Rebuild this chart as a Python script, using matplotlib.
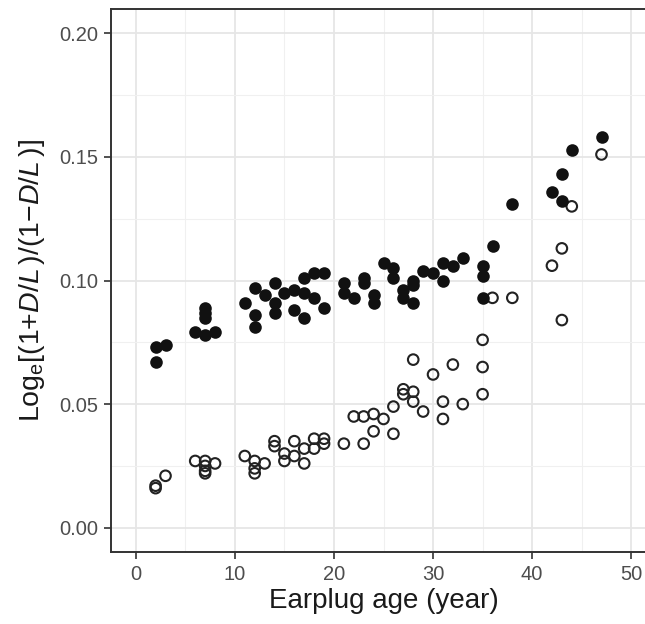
import matplotlib
matplotlib.use("Agg")
import matplotlib.pyplot as plt
from matplotlib.ticker import MultipleLocator

# Filled circles
solid_age = [2, 2, 3, 6, 7, 7, 7, 7, 8, 11, 12, 12, 12, 13, 14, 14, 14, 15, 16, 16,
             17, 17, 17, 18, 18, 19, 19, 21, 21, 22, 23, 23, 24, 24, 25, 26, 26, 27, 27,
             28, 28, 28, 29, 30, 31, 31, 32, 33, 35, 35, 35, 36, 38, 42, 43, 43, 44, 47]
solid_ratio = [0.073, 0.067, 0.074, 0.079, 0.089, 0.087, 0.085, 0.078, 0.079, 0.091,
               0.097, 0.086, 0.081, 0.094, 0.099, 0.091, 0.087, 0.095, 0.096, 0.088,
               0.101, 0.095, 0.085, 0.103, 0.093, 0.103, 0.089, 0.099, 0.095, 0.093,
               0.101, 0.099, 0.094, 0.091, 0.107, 0.105, 0.101, 0.096, 0.093,
               0.100, 0.098, 0.091, 0.104, 0.103, 0.107, 0.100, 0.106, 0.109,
               0.106, 0.102, 0.093, 0.114, 0.131, 0.136, 0.143, 0.132, 0.153, 0.158]

# Open circles
hollow_age = [2, 2, 3, 6, 7, 7, 7, 7, 8, 11, 12, 12, 12, 13, 14, 14, 15, 15, 16, 16,
              17, 17, 18, 18, 19, 19, 21, 22, 23, 23, 24, 24, 25, 26, 26, 27, 27,
              28, 28, 28, 29, 30, 31, 31, 32, 33, 35, 35, 35, 36, 38, 42, 43, 43, 44, 47]
hollow_ratio = [0.017, 0.016, 0.021, 0.027, 0.027, 0.025, 0.023, 0.022, 0.026, 0.029,
                0.027, 0.024, 0.022, 0.026, 0.035, 0.033, 0.030, 0.027, 0.035, 0.029,
                0.032, 0.026, 0.036, 0.032, 0.036, 0.034, 0.034, 0.045, 0.045, 0.034,
                0.046, 0.039, 0.044, 0.049, 0.038, 0.056, 0.054,
                0.068, 0.055, 0.051, 0.047, 0.062, 0.051, 0.044, 0.066, 0.050,
                0.076, 0.065, 0.054, 0.093, 0.093, 0.106, 0.113, 0.084, 0.130, 0.151]

x_ticks = [0, 10, 20, 30, 40, 50]
y_ticks = [0.00, 0.05, 0.10, 0.15, 0.20]

plt.rcParams["font.family"] = ["Liberation Sans", "DejaVu Sans"]
plt.rcParams["mathtext.fontset"] = "custom"
plt.rcParams["mathtext.rm"] = "Liberation Sans"
plt.rcParams["mathtext.it"] = "Liberation Sans:italic"

fig = plt.figure(figsize=(6.45, 6.24), dpi=100)
# panel runs a little past the right edge, like the cropped original
ax = fig.add_axes([111 / 645, 0.1147, 545 / 645, 0.8715])

ax.scatter(hollow_age, hollow_ratio, s=58, facecolors="none", edgecolors="#222222",
           linewidths=1.5, zorder=3)
ax.scatter(solid_age, solid_ratio, s=82, c="#111111", linewidths=0, zorder=4)

ax.set_xlim(-2.5, 52.5)
ax.set_ylim(-0.01, 0.21)
ax.set_xticks(x_ticks)
ax.set_yticks(y_ticks)
ax.set_yticklabels([f"{v:.2f}" for v in y_ticks])
ax.xaxis.set_minor_locator(MultipleLocator(5))
ax.yaxis.set_minor_locator(MultipleLocator(0.025))

ax.grid(True, which="major", color="#e6e6e6", linewidth=1.3)
ax.grid(True, which="minor", color="#f0f0f0", linewidth=0.8)
ax.set_axisbelow(True)

for spine in ax.spines.values():
    spine.set_color("#333333")
    spine.set_linewidth(1.4)

ax.tick_params(axis="both", which="major", direction="out", length=5, width=1.2,
               color="#333333", labelcolor="#4d4d4d", labelsize=14.5, pad=4)
ax.tick_params(axis="both", which="minor", length=0)

ax.set_xlabel("Earplug age (year)", fontsize=20, color="#1a1a1a", labelpad=3)
# small gaps after the italic L, as in the original label
ax.set_ylabel(r"Log$_\mathrm{e}$[(1+$\mathit{D/L}\,$)/(1$-$$\mathit{D/L}\,$)]",
              fontsize=20.5, color="#1a1a1a", labelpad=9)

fig.savefig("out.png", dpi=100)
